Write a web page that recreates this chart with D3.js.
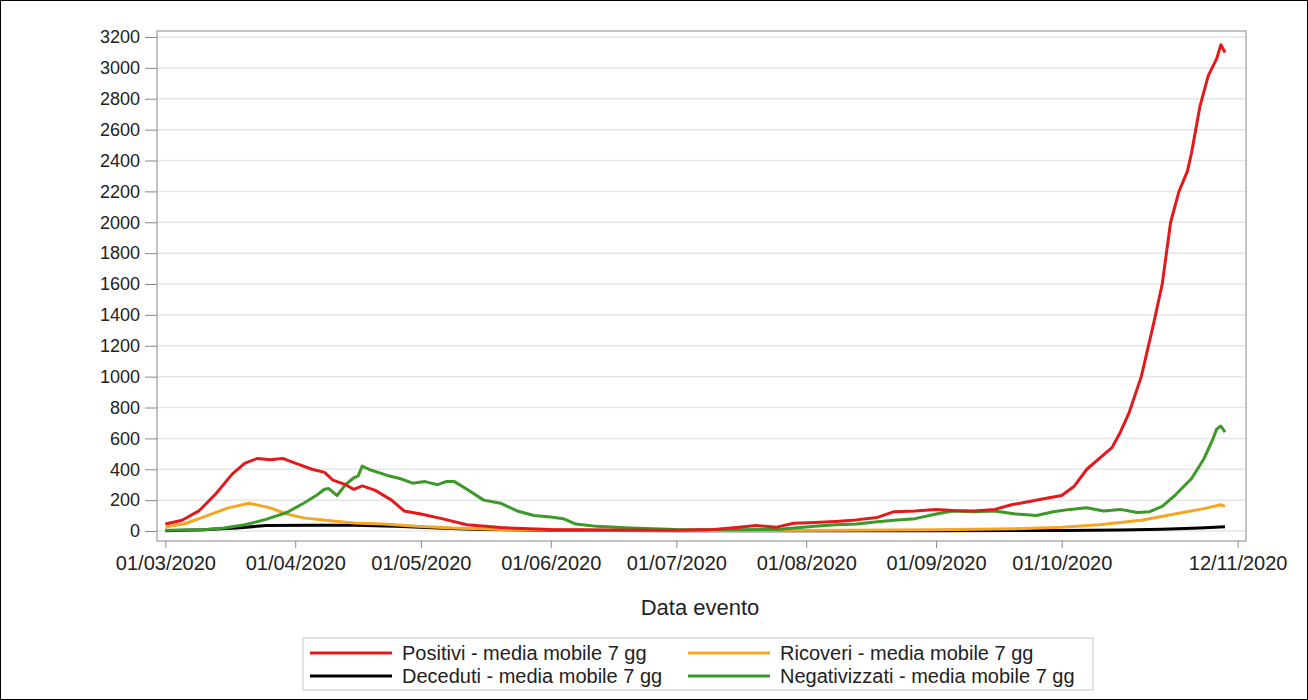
<!DOCTYPE html>
<html><head><meta charset="utf-8">
<script src="https://cdn.jsdelivr.net/npm/d3@7"></script>
<style>body{margin:0;background:#fff}svg{font-family:"Liberation Sans",Arial,sans-serif}</style>
</head><body><svg id="c" width="1308" height="700"></svg>
<script>
const seriesNames = ["Positivi - media mobile 7 gg","Ricoveri - media mobile 7 gg","Deceduti - media mobile 7 gg","Negativizzati - media mobile 7 gg"];
const seriesColors = ["#e31a1c","#f5a623","#000000","#3c9a28"];
const yTicks = d3.range(0,3201,200);
const xTickLabels = ["01/03/2020","01/04/2020","01/05/2020","01/06/2020","01/07/2020","01/08/2020","01/09/2020","01/10/2020","12/11/2020"];

const positivi = [["03-01",45],["03-05",70],["03-09",130],["03-13",240],["03-17",370],["03-20",440],["03-23",470],["03-26",462],["03-29",470],["04-01",440],["04-05",400],["04-08",380],["04-10",330],["04-13",300],["04-15",270],["04-17",292],["04-20",265],["04-24",200],["04-27",130],["05-01",110],["05-06",80],["05-12",40],["05-20",22],["06-01",10],["06-15",7],["07-01",5],["07-10",10],["07-16",25],["07-20",35],["07-25",25],["07-29",50],["08-03",55],["08-08",62],["08-13",72],["08-18",88],["08-22",125],["08-27",130],["09-01",140],["09-05",133],["09-10",130],["09-15",140],["09-19",170],["09-23",190],["09-27",210],["10-01",230],["10-04",290],["10-07",400],["10-10",470],["10-13",540],["10-15",640],["10-17",760],["10-20",1000],["10-23",1350],["10-25",1600],["10-27",2000],["10-29",2200],["10-31",2330],["11-01",2450],["11-03",2750],["11-05",2950],["11-07",3060],["11-08",3150],["11-09",3100]];
const ricoveri = [["03-01",25],["03-06",50],["03-11",100],["03-16",150],["03-21",180],["03-26",150],["03-30",110],["04-03",85],["04-10",65],["04-15",52],["04-22",45],["04-30",30],["05-10",18],["05-20",10],["06-10",5],["07-10",3],["08-10",5],["09-01",8],["09-20",15],["10-01",25],["10-10",40],["10-20",70],["10-28",110],["11-04",145],["11-08",170],["11-09",160]];
const deceduti = [["03-01",2],["03-10",8],["03-18",20],["03-25",35],["04-05",38],["04-15",38],["04-25",30],["05-05",20],["05-15",10],["06-01",5],["07-01",2],["08-01",1],["09-01",2],["10-01",3],["10-15",6],["10-25",12],["11-03",20],["11-09",27]];
const negativizzati = [["03-01",5],["03-10",8],["03-15",20],["03-20",40],["03-25",75],["03-30",120],["04-03",180],["04-06",230],["04-08",270],["04-09",275],["04-11",230],["04-13",300],["04-15",345],["04-16",355],["04-17",420],["04-19",395],["04-23",360],["04-26",340],["04-29",310],["05-02",320],["05-05",300],["05-07",320],["05-09",320],["05-12",270],["05-16",200],["05-20",180],["05-24",130],["05-28",100],["06-01",90],["06-04",80],["06-07",45],["06-12",30],["06-20",20],["07-01",10],["07-15",8],["07-25",10],["08-03",30],["08-08",40],["08-13",45],["08-18",60],["08-22",70],["08-27",80],["09-01",110],["09-05",130],["09-10",125],["09-15",130],["09-20",110],["09-25",100],["09-29",125],["10-03",140],["10-07",150],["10-11",130],["10-15",140],["10-19",120],["10-22",125],["10-25",160],["10-28",230],["11-01",340],["11-04",470],["11-06",590],["11-07",660],["11-08",680],["11-09",640]];
const allSeries = [positivi,ricoveri,deceduti,negativizzati];

const svg = d3.select("#c");
svg.append("rect").attr("x",0.5).attr("y",0.5).attr("width",1307).attr("height",699).attr("fill","none").attr("stroke","#000");
const L=157,R=1246,T=31,B=541;
const parse = s=>d3.timeParse("%Y-%m-%d")("2020-"+s);
const x = d3.scaleTime().domain([parse("02-28"),parse("11-14")]).range([L,R]);
const y = d3.scaleLinear().domain([0,3200]).range([531,37]);

svg.append("g").selectAll("line").data(yTicks).join("line")
 .attr("x1",L).attr("x2",R).attr("y1",d=>y(d)).attr("y2",d=>y(d)).attr("stroke","#e6e6e6").attr("stroke-width",1.5);
svg.append("rect").attr("x",L).attr("y",T).attr("width",R-L).attr("height",B-T).attr("fill","none").attr("stroke","#b0b0b0").attr("stroke-width",1.5);

const ya = svg.append("g").attr("transform",`translate(${L},0)`).call(d3.axisLeft(y).tickValues(yTicks).tickSize(12).tickPadding(5).tickFormat(d3.format("d")));
ya.select(".domain").remove();
ya.selectAll("line").attr("stroke","#888");
ya.selectAll("text").style("font-size","18px").style("font-family","Liberation Sans, Arial").attr("fill","#222");

const xDates = xTickLabels.map(s=>{const p=s.split("/");return parse(p[1]+"-"+p[0]);});
const xa = svg.append("g").attr("transform",`translate(0,${B})`).call(d3.axisBottom(x).tickValues(xDates).tickSize(7).tickPadding(8).tickFormat((d,i)=>xTickLabels[i]));
xa.select(".domain").remove();
xa.selectAll("line").attr("stroke","#888");
xa.selectAll("text").style("font-size","20px").style("font-family","Liberation Sans, Arial").attr("fill","#222");

svg.append("text").attr("x",700).attr("y",615).attr("text-anchor","middle").style("font-size","22px").attr("fill","#222").text("Data evento");

const line = d3.line().x(d=>x(parse(d[0]))).y(d=>y(d[1]));
[2,1,3,0].forEach(i=>{
 svg.append("path").attr("d",line(allSeries[i])).attr("fill","none").attr("stroke",seriesColors[i]).attr("stroke-width",3).attr("stroke-linejoin","round");
});

svg.append("rect").attr("x",303).attr("y",638).attr("width",790).attr("height",52).attr("fill","none").attr("stroke","#c8c8c8");
const lg=[[0,310,653],[1,688,653],[2,310,676],[3,688,676]];
lg.forEach(([i,lx,ly])=>{
 svg.append("line").attr("x1",lx).attr("x2",lx+82).attr("y1",ly).attr("y2",ly).attr("stroke",seriesColors[i]).attr("stroke-width",3);
 svg.append("text").attr("x",lx+92).attr("y",ly+7).style("font-size","20px").attr("fill","#222").text(seriesNames[i]);
});
</script></body></html>
